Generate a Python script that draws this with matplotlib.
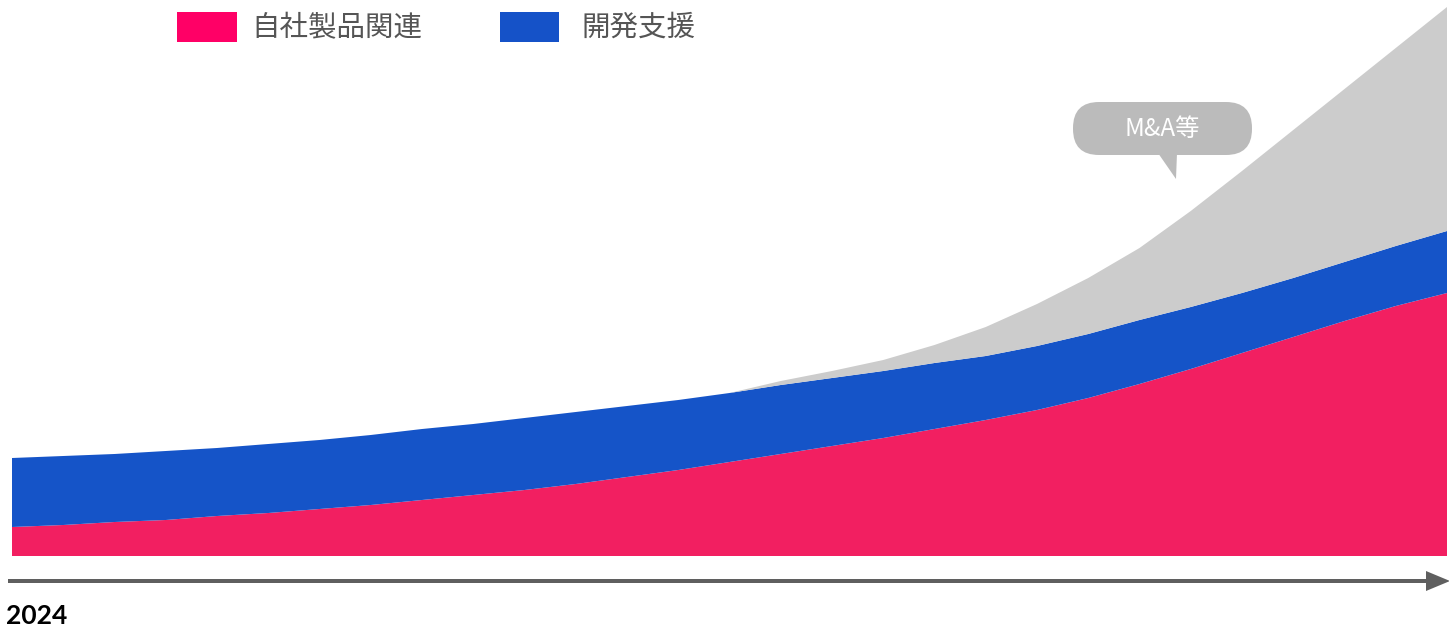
import numpy as np
import matplotlib.pyplot as plt
from matplotlib.patches import FancyBboxPatch, Rectangle, Polygon, FancyArrow

plt.rcParams['font.family'] = ['Noto Sans CJK JP', 'DejaVu Sans']

# period index (2024 at the left edge), stacked layer heights
periods = np.arange(29)
own_products = [29, 31, 34, 36, 40, 43, 47, 51, 56, 61, 66, 72, 79, 86, 94,
                102, 110, 118, 127, 136, 146, 158, 172, 187, 203, 219, 235, 250, 263]
dev_support = [69, 69, 68, 69, 68, 69, 69, 70, 71, 71, 72, 72, 71, 70, 69,
               69, 68, 67, 66, 64, 64, 64, 64, 62, 60, 59, 59, 60, 62]
ma_etc = [0, 0, 0, 0, 0, 0, 0, 0, 0, 0, 0, 0, 0, 0, 0,
          4, 7, 11, 18, 29, 42, 56, 72, 96, 122, 148, 173, 198, 224]

series_labels = ['自社製品関連', '開発支援']
bubble_label = 'M&A等'
start_label = '2024'

c_pink = '#f21f61'
c_blue = '#1554c8'
c_gray = '#cccccc'

W, H = 1449, 627
fig = plt.figure(figsize=(W / 100, H / 100), dpi=100)

# main area chart
ax = fig.add_axes([12 / W, 71 / H, 1435 / W, 556 / H])
ax.stackplot(periods, own_products, dev_support, ma_etc,
             colors=[c_pink, c_blue, c_gray], linewidth=0)
ax.set_xlim(periods[0], periods[-1])
ax.set_ylim(0, 556)
ax.axis('off')

# overlay in pixel coordinates for legend, bubble and time arrow
ov = fig.add_axes([0, 0, 1, 1], zorder=5)
ov.set_xlim(0, W)
ov.set_ylim(H, 0)
ov.axis('off')

# legend
ov.add_patch(Rectangle((177, 12), 60, 30, color='#ff0066', lw=0))
ov.text(251, 28, series_labels[0], fontsize=20.5, color='#555555', va='center', ha='left')
ov.add_patch(Rectangle((500, 12), 59, 30, color='#1552c8', lw=0))
ov.text(581, 28, series_labels[1], fontsize=20.5, color='#555555', va='center', ha='left')

# speech bubble
ov.add_patch(FancyBboxPatch((1073, 102), 179, 53,
                            boxstyle='round,pad=0,rounding_size=26',
                            color='#bbbbbb', lw=0))
ov.add_patch(Polygon([[1158, 153], [1177, 153], [1176, 179]], closed=True,
                     color='#bbbbbb', lw=0))
ov.text(1162, 129, bubble_label, fontsize=17.5, color='white', ha='center', va='center')

# time arrow
ov.add_patch(FancyArrow(8, 581, 1418, 0, width=4, head_width=20, head_length=24,
                        length_includes_head=False, color='#5f5f5f', lw=0))
ov.text(6, 616, start_label, fontsize=19, fontweight='bold', family=['Lato', 'DejaVu Sans'],
        color='black', ha='left', va='center')

fig.savefig('out.png', dpi=100)
